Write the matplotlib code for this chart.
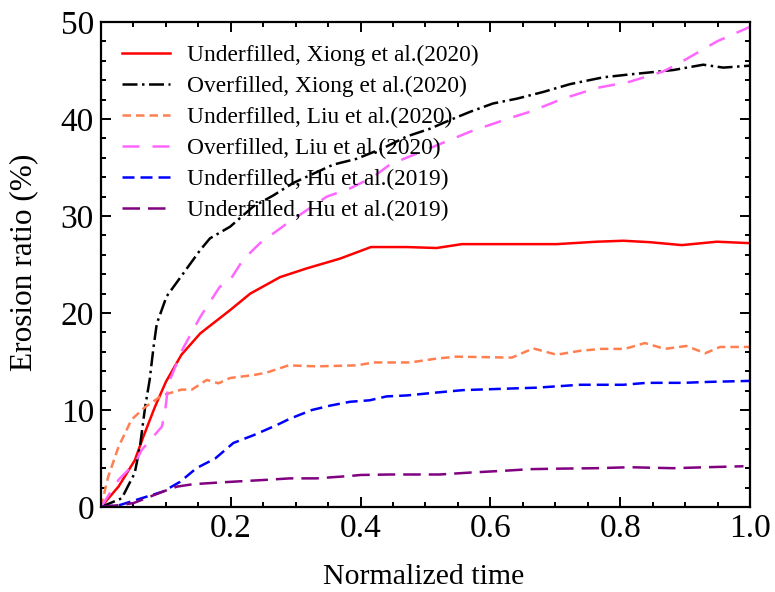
import matplotlib
matplotlib.use("Agg")
import matplotlib.pyplot as plt
from matplotlib.ticker import MultipleLocator

plt.rcParams['font.family'] = ['Liberation Serif', 'DejaVu Serif']
plt.rcParams['mathtext.fontset'] = 'stix'

# Underfilled, Xiong et al.(2020)
xiong_under_x = [0, 0.027, 0.052, 0.065, 0.083, 0.100, 0.124, 0.153, 0.199, 0.230, 0.276,
                 0.317, 0.368, 0.416, 0.471, 0.517, 0.556, 0.702, 0.764, 0.805, 0.846,
                 0.895, 0.949, 1.0]
xiong_under_y = [0, 2.1, 4.8, 7.2, 10.3, 12.9, 15.7, 17.9, 20.3, 22.0, 23.7,
                 24.6, 25.6, 26.8, 26.8, 26.7, 27.1, 27.1, 27.35, 27.45, 27.3,
                 27.0, 27.35, 27.2]

# Overfilled, Xiong et al.(2020)
xiong_over_x = [0, 0.032, 0.052, 0.060, 0.068, 0.075, 0.081, 0.086, 0.101, 0.127, 0.153,
                0.168, 0.199, 0.235, 0.265, 0.296, 0.322, 0.358, 0.394, 0.435, 0.471,
                0.507, 0.538, 0.569, 0.604, 0.641, 0.682, 0.723, 0.774, 0.815, 0.882,
                0.928, 0.959, 1.0]
xiong_over_y = [0, 0.9, 3.5, 6.2, 10.3, 13.1, 16.5, 18.9, 21.7, 24.1, 26.5,
                27.7, 28.9, 31.0, 32.1, 33.4, 34.2, 35.3, 35.9, 37.0, 38.2,
                39.0, 39.9, 40.75, 41.6, 42.1, 42.8, 43.6, 44.3, 44.6, 45.05,
                45.6, 45.3, 45.5]

# Underfilled, Liu et al.(2020)
liu_under_x = [0, 0.011, 0.027, 0.047, 0.068, 0.094, 0.124, 0.140, 0.163, 0.181, 0.199,
               0.235, 0.255, 0.289, 0.332, 0.394, 0.420, 0.476, 0.517, 0.548, 0.633,
               0.666, 0.702, 0.738, 0.771, 0.807, 0.838, 0.869, 0.902, 0.931, 0.954, 1.0]
liu_under_y = [0, 3.1, 6.2, 9.0, 10.3, 11.5, 12.1, 12.1, 13.1, 12.75, 13.3,
               13.6, 13.85, 14.6, 14.5, 14.6, 14.9, 14.9, 15.3, 15.5, 15.4,
               16.35, 15.7, 16.1, 16.3, 16.3, 16.9, 16.3, 16.6, 15.85, 16.5, 16.5]

# Overfilled, Liu et al.(2020)
liu_over_x = [0, 0.027, 0.052, 0.063, 0.094, 0.099, 0.104, 0.126, 0.153, 0.183, 0.199,
              0.219, 0.245, 0.286, 0.317, 0.348, 0.384, 0.420, 0.445, 0.507, 0.569,
              0.630, 0.661, 0.712, 0.764, 0.815, 0.866, 0.887, 0.918, 0.949, 1.0]
liu_over_y = [0, 2.8, 4.5, 5.9, 8.3, 10.0, 12.75, 16.3, 19.6, 22.7, 23.4,
              25.5, 27.2, 29.2, 30.6, 32.0, 32.85, 34.05, 35.3, 37.0, 38.7,
              40.1, 40.75, 42.1, 43.2, 43.85, 44.9, 45.6, 46.8, 48.0, 49.5]

# Underfilled, Hu et al.(2019) - first set
hu_a_x = [0, 0.029, 0.096, 0.122, 0.147, 0.176, 0.204, 0.235, 0.271, 0.291, 0.325,
          0.353, 0.384, 0.414, 0.440, 0.471, 0.517, 0.558, 0.625, 0.671, 0.738,
          0.805, 0.841, 0.897, 0.938, 1.0]
hu_a_y = [0, 0.2, 1.6, 2.6, 4.0, 5.0, 6.6, 7.4, 8.45, 9.1, 10.0,
          10.45, 10.85, 11.0, 11.4, 11.5, 11.8, 12.05, 12.2, 12.3, 12.6,
          12.6, 12.8, 12.8, 12.9, 13.0]

# Underfilled, Hu et al.(2019) - second set
hu_b_x = [0, 0.029, 0.050, 0.096, 0.117, 0.142, 0.188, 0.255, 0.291, 0.332, 0.384,
          0.400, 0.445, 0.522, 0.569, 0.625, 0.661, 0.702, 0.764, 0.815, 0.846,
          0.882, 0.933, 0.99]
hu_b_y = [0, 0.2, 0.4, 1.6, 2.1, 2.35, 2.55, 2.8, 2.95, 2.95, 3.2,
          3.3, 3.35, 3.35, 3.55, 3.75, 3.9, 3.95, 4.0, 4.1, 4.05,
          4.0, 4.1, 4.2]

labels = ["Underfilled, Xiong et al.(2020)", "Overfilled, Xiong et al.(2020)",
          "Underfilled, Liu et al.(2020)", "Overfilled, Liu et al.(2020)",
          "Underfilled, Hu et al.(2019)", "Underfilled, Hu et al.(2019)"]

x_ticks = [0.2, 0.4, 0.6, 0.8, 1.0]
y_ticks = [0, 10, 20, 30, 40, 50]

fig = plt.figure(figsize=(7.75, 5.92), dpi=100)
ax = fig.add_axes([0.1303, 0.1436, 0.8374, 0.8192])

lw = 1.8
ax.plot(xiong_under_x, xiong_under_y, color='#ff0000', lw=lw, ls='-', label=labels[0])
ax.plot(xiong_over_x, xiong_over_y, color='black', lw=lw, ls=(0, (6, 1.8, 1, 1.8)), label=labels[1])
ax.plot(liu_under_x, liu_under_y, color='#ff7f50', lw=lw, ls=(0, (3.4, 2)), label=labels[2])
ax.plot(liu_over_x, liu_over_y, color='#ff66ff', lw=lw, ls=(0, (6.8, 5.2)), label=labels[3])
ax.plot(hu_a_x, hu_a_y, color='#0000ff', lw=lw, ls=(0, (4.8, 2.4)), label=labels[4])
ax.plot(hu_b_x, hu_b_y, color='#800080', lw=lw, ls=(0, (7, 3.2)), label=labels[5])

ax.set_xlim(0, 1.0)
ax.set_ylim(0, 50)
ax.set_xticks(x_ticks)
ax.set_yticks(y_ticks)
ax.xaxis.set_minor_locator(MultipleLocator(0.05))
ax.yaxis.set_minor_locator(MultipleLocator(2))
ax.tick_params(which='both', direction='in', top=True, right=True, labelsize=24, width=1.4)
ax.tick_params(which='major', length=7.5, pad=5)
ax.tick_params(which='minor', length=3.5)
for sp in ax.spines.values():
    sp.set_linewidth(1.6)

ax.set_xlabel("Normalized time", fontsize=21.5)
ax.set_ylabel("Erosion ratio (%)", fontsize=22.5)
ax.xaxis.set_label_coords(0.497, -0.117)
ax.yaxis.set_label_coords(-0.097, 0.505)

ax.legend(loc='upper left', frameon=False, fontsize=16.8, handlelength=2.05,
          handletextpad=0.72, labelspacing=0.42, borderaxespad=0.5,
          bbox_to_anchor=(0.0, 0.997))

fig.savefig("out.png", dpi=100)
